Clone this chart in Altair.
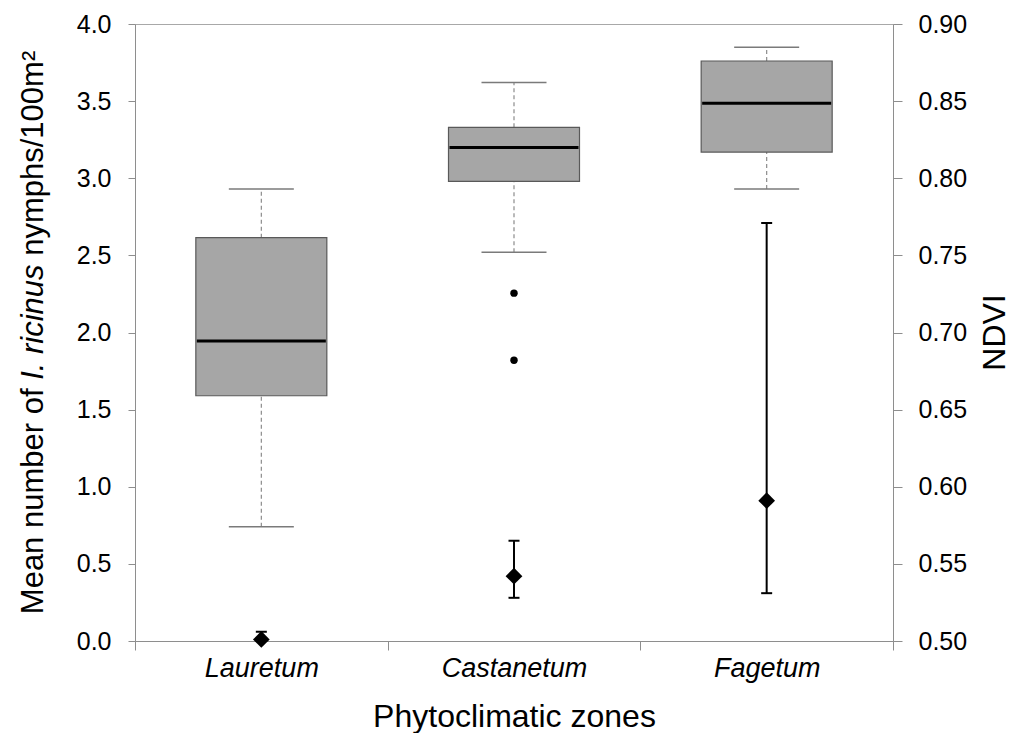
import altair as alt
import pandas as pd

# ---------------- data ----------------
zones = ["Lauretum", "Castanetum", "Fagetum"]

# NDVI box plots (right axis)
ndvi_whisker_low = [0.574, 0.752, 0.793]
ndvi_q1 = [0.659, 0.798, 0.817]
ndvi_median = [0.6945, 0.820, 0.8486]
ndvi_q3 = [0.7615, 0.833, 0.876]
ndvi_whisker_high = [0.793, 0.862, 0.885]

outlier_zone = ["Castanetum", "Castanetum"]
outlier_ndvi = [0.7255, 0.682]

# mean number of nymphs (left axis) with error bars
nymph_mean = [0.01, 0.42, 0.91]
nymph_low = [0.0, 0.28, 0.31]
nymph_high = [0.06, 0.65, 2.71]

left_ticks = [0, 0.5, 1.0, 1.5, 2.0, 2.5, 3.0, 3.5, 4.0]
right_ticks = [0.50, 0.55, 0.60, 0.65, 0.70, 0.75, 0.80, 0.85, 0.90]

title_parts = ["Mean number of", "I. ricinus", "nymphs/100m\u00b2"]
x_title = "Phytoclimatic zones"
right_title = "NDVI"

# ---------------- tables ----------------
box_df = pd.DataFrame({
    "zone": zones, "wlo": ndvi_whisker_low, "q1": ndvi_q1, "med": ndvi_median,
    "q3": ndvi_q3, "whi": ndvi_whisker_high,
})
out_df = pd.DataFrame({"zone": outlier_zone, "v": outlier_ndvi})
ny_df = pd.DataFrame({"zone": zones, "mean": nymph_mean, "lo": nymph_low, "hi": nymph_high})

FONT = "Liberation Sans"
AXC = "#8e8e8e"
W, H = 758, 617

x_enc = alt.X(
    "zone:N", sort=zones,
    scale=alt.Scale(domain=zones, paddingInner=0, paddingOuter=0),
    axis=alt.Axis(
        title=x_title, tickBand="extent", labelAngle=0, labelFontStyle="italic",
        labelFontSize=27, labelFont=FONT, labelColor="black", tickSize=9,
        labelPadding=5, titleFontSize=32, titleFont=FONT, titleFontWeight="normal",
        titleColor="black", titlePadding=20, domainColor=AXC, tickColor=AXC,
        grid=False,
    ),
)

left_axis = alt.Axis(
    orient="left", values=left_ticks, format=".1f", title=None, tickSize=7,
    labelPadding=17, labelFontSize=25, labelFont=FONT, labelColor="black",
    domainColor=AXC, tickColor=AXC, grid=False,
)
right_axis = alt.Axis(
    orient="right", values=right_ticks, format=".2f", title=None, tickSize=9,
    labelPadding=16, labelFontSize=25, labelFont=FONT, labelColor="black",
    domainColor=AXC, tickColor=AXC, grid=False,
)
left_scale = alt.Scale(domain=[0, 4], nice=False, zero=False)
right_scale = alt.Scale(domain=[0.5, 0.9], nice=False, zero=False)


def yl(field):
    return alt.Y(f"{field}:Q", scale=left_scale, axis=left_axis)


def yr(field):
    return alt.Y(f"{field}:Q", scale=right_scale, axis=right_axis)


# ---------------- left group: nymph means ----------------
nb = alt.Chart(ny_df)
err = nb.mark_rule(color="black", strokeWidth=2).encode(x=x_enc, y=yl("lo"), y2="hi:Q")
cap_lo = nb.mark_tick(color="black", size=11, thickness=2, opacity=1).encode(x=x_enc, y=yl("lo"))
cap_hi = nb.mark_tick(color="black", size=11, thickness=2, opacity=1).encode(x=x_enc, y=yl("hi"))
diam = nb.mark_point(shape="diamond", filled=True, color="black", size=280, opacity=1).encode(
    x=x_enc, y=yl("mean"))
left_group = alt.layer(err, cap_lo, cap_hi, diam)

# ---------------- right group: NDVI boxes ----------------
bb = alt.Chart(box_df)
wh_lo = bb.mark_rule(color="#8c8c8c", strokeWidth=1.2, strokeDash=[4, 3]).encode(
    x=x_enc, y=yr("wlo"), y2="q1:Q")
wh_hi = bb.mark_rule(color="#8c8c8c", strokeWidth=1.2, strokeDash=[4, 3]).encode(
    x=x_enc, y=yr("q3"), y2="whi:Q")
wcap_lo = bb.mark_tick(color="#7a7a7a", size=65, thickness=1.5, opacity=1).encode(x=x_enc, y=yr("wlo"))
wcap_hi = bb.mark_tick(color="#7a7a7a", size=65, thickness=1.5, opacity=1).encode(x=x_enc, y=yr("whi"))
box = bb.mark_bar(size=131, color="#a6a6a6", stroke="#595959", strokeWidth=1.2, opacity=1).encode(
    x=x_enc, y=yr("q1"), y2="q3:Q")
med = bb.mark_tick(color="black", size=129, thickness=3, opacity=1).encode(x=x_enc, y=yr("med"))
outl = alt.Chart(out_df).mark_circle(color="black", size=55, opacity=1).encode(
    x=x_enc, y=yr("v"))
right_group = alt.layer(wh_lo, wh_hi, wcap_lo, wcap_hi, box, med, outl)

# ---------------- axis titles as text ----------------
FS = 31
em = {"Mean number of": 7.281, "I. ricinus": 3.723, "nymphs/100m\u00b2": 6.613}
space = 0.278
total = (em[title_parts[0]] + em[title_parts[1]] + em[title_parts[2]] + 2 * space) * FS
y0 = H / 2 + total / 2
starts = [
    y0,
    y0 - (em[title_parts[0]] + space) * FS,
    y0 - (em[title_parts[0]] + em[title_parts[1]] + 2 * space) * FS,
]
styles = ["normal", "italic", "normal"]
title_layers = []
for part, ys, st in zip(title_parts, starts, styles):
    title_layers.append(
        alt.Chart(pd.DataFrame({"t": [part]})).mark_text(
            angle=270, align="left", baseline="alphabetic", fontSize=FS, font=FONT,
            fontStyle=st, color="black",
        ).encode(text="t:N", x=alt.value(-92), y=alt.value(ys))
    )

ndvi_title = alt.Chart(pd.DataFrame({"t": [right_title]})).mark_text(
    angle=270, align="center", baseline="alphabetic", fontSize=32, font=FONT, color="black",
).encode(text="t:N", x=alt.value(W + 112), y=alt.value(H / 2))

chart = alt.layer(left_group, right_group, *title_layers, ndvi_title).resolve_scale(
    y="independent"
).properties(
    width=W, height=H,
    padding={"left": 127, "top": 16, "right": 118, "bottom": 92},
    autosize=alt.AutoSizeParams(type="none"),
    background="white",
).configure_view(stroke="#a8a8a8", strokeWidth=1)

chart.save("out.html", embed_options={"renderer": "svg", "actions": False})
